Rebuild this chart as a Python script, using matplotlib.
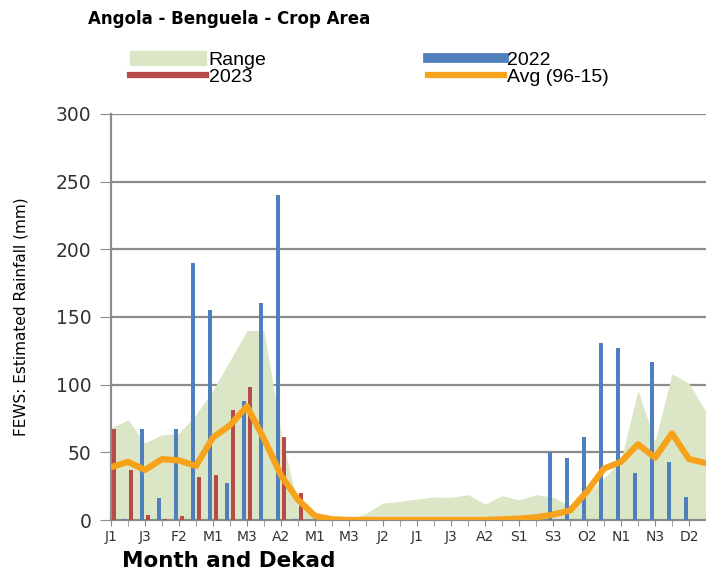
import numpy as np
import matplotlib
matplotlib.use("Agg")
import matplotlib.pyplot as plt
from matplotlib.lines import Line2D
from matplotlib.patches import Patch

# dekads of the year (J1 .. D3)
dekads = [m + str(d) for m in "JFMAMJJASOND" for d in (1, 2, 3)]

# 2022 and 2023 rainfall (mm); nan = no data
rain_2022 = [0, 1, 67, 16, 67, 190, 155, 27, 88, 160, 240, 1,
             0, 0, 0, 0, 0, 0, 0, 0, 0, 0, 0, 0,
             0, 0, 50, 46, 61, 131, 127, 35, 117, 43, 17, 0]
rain_2023 = [67, 37, 4, 1, 3, 32, 33, 81, 98, 0, 61, 20] + [np.nan] * 24

# long term average (96-15)
avg = [39, 43, 37, 45, 44, 40, 61, 70, 84, 60, 33, 15,
       3, 0.5, 0, 0, 0, 0, 0, 0, 0, 0, 0, 0.5,
       1, 2, 4, 7, 21, 38, 43, 56, 46, 64, 45, 42]

# range (min / max)
range_min = [0] * 36
range_max = [68, 74, 57, 63, 64, 78, 96, 118, 140, 140, 65, 10,
             3, 0.5, 0.5, 5, 12.6, 13.8, 15.5, 17, 16.7, 18.7, 11.8, 18,
             14.8, 18.7, 17, 10, 19, 31, 44, 96, 58, 108, 101, 80]

tick_labels = ["J1", "J3", "F2", "M1", "M3", "A2", "M1", "M3", "J2",
               "J1", "J3", "A2", "S1", "S3", "O2", "N1", "N3", "D2"]

c_range = "#dbe6c6"
c_2022 = "#4f7fbd"
c_2023 = "#b84a48"
c_avg = "#f7a21b"

x = np.arange(len(dekads))

fig = plt.figure(figsize=(7.06, 5.72), dpi=100)
ax = fig.add_axes([111 / 706, 52 / 572, 595 / 706, 406 / 572])

ax.fill_between(x, range_min, range_max, color=c_range, lw=0, zorder=2)
ax.bar(x - 0.16, rain_2022, width=0.26, color=c_2022, zorder=3)
ax.bar(x + 0.16, rain_2023, width=0.26, color=c_2023, zorder=3)
ax.plot(x, avg, color=c_avg, lw=4.5, zorder=4, solid_capstyle="round", solid_joinstyle="round")

ax.set_xlim(0, 34.45)
ax.set_ylim(0, 300)
ax.set_yticks(range(0, 301, 50))
ax.yaxis.grid(True, color="#8c8c8c", lw=1.6)
ax.set_axisbelow(True)

ax.set_xticks(x, minor=True)
ax.set_xticks(x[::2])
ax.set_xticklabels(tick_labels, fontsize=10, color="#333333")
ax.tick_params(axis="x", which="both", length=4, color="#8c8c8c", pad=3)
ax.tick_params(axis="y", length=8, color="#8c8c8c", labelsize=13.5, pad=6, labelcolor="#333333")

for side in ["top", "right"]:
    ax.spines[side].set_visible(False)
for side in ["left", "bottom"]:
    ax.spines[side].set_color("#8c8c8c")
    ax.spines[side].set_linewidth(1.6)

ax.set_ylabel("FEWS: Estimated Rainfall (mm)", fontsize=11)
ax.yaxis.set_label_coords(-0.138, 0.5)

fig.text(88 / 706, 1 - 19 / 572, "Angola - Benguela - Crop Area",
         fontsize=12, fontweight="bold", va="center", ha="left")
fig.text(122 / 706, 1 - 561 / 572, "Month and Dekad",
         fontsize=15.5, fontweight="bold", va="center", ha="left")

handles = [Patch(color=c_range),
           Line2D([], [], color=c_2023, lw=4.5),
           Line2D([], [], color=c_2022, lw=7),
           Line2D([], [], color=c_avg, lw=4.5)]
labels = ["Range", "2023", "2022", "Avg (96-15)"]
fig.legend(handles, labels, ncol=2, frameon=False, loc="upper left",
           bbox_to_anchor=(130 / 706, 1 - 51 / 572), borderpad=0, borderaxespad=0,
           handlelength=3.9, handletextpad=0.15, labelspacing=0,
           columnspacing=8.3, prop={"family": "Liberation Sans", "size": 14})

fig.savefig("out.png", dpi=100)
